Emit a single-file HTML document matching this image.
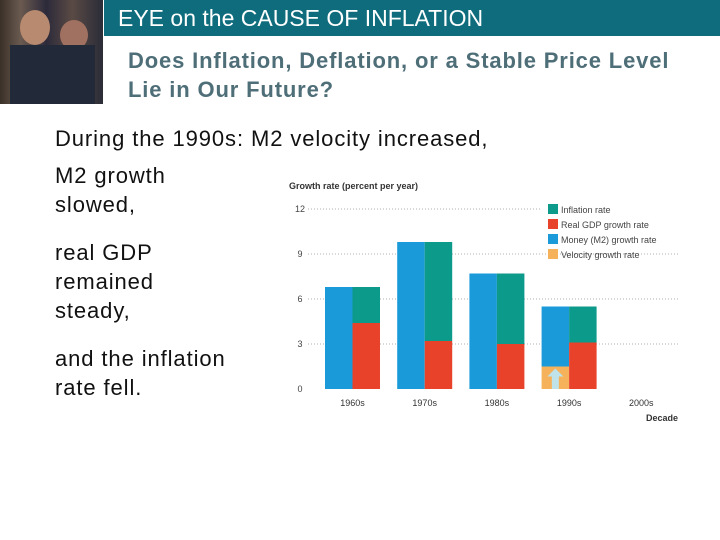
<!DOCTYPE html>
<html><head><meta charset="utf-8"><style>
body{margin:0;width:720px;height:540px;position:relative;background:#fff;font-family:"Liberation Sans",sans-serif;overflow:hidden}
.t{position:absolute;font-size:22px;color:#111;white-space:nowrap;line-height:29px;letter-spacing:0.9px}
</style></head><body>
<div style="position:absolute;left:0;top:0;width:103px;height:104px;background:linear-gradient(90deg,#3a3028 0%,#6a5a50 20%,#2c2a3a 45%,#5a4a44 70%,#2a2c38 100%)">
<div style="position:absolute;left:20px;top:10px;width:30px;height:35px;border-radius:50%;background:#b88a70"></div>
<div style="position:absolute;left:60px;top:20px;width:28px;height:30px;border-radius:50%;background:#a07060"></div>
<div style="position:absolute;left:10px;top:45px;width:85px;height:59px;background:#222a3a"></div>
</div>
<div style="position:absolute;left:104px;top:0;width:616px;height:36px;background:#0e6c7c"></div>
<div style="position:absolute;left:118px;top:5px;font-size:23px;color:#fff;white-space:nowrap">EYE on the CAUSE OF INFLATION</div>
<div style="position:absolute;left:128px;top:46px;font-size:22px;font-weight:bold;color:#4e6e78;line-height:29px;white-space:nowrap;letter-spacing:0.85px">Does Inflation, Deflation, or a Stable Price Level<br>Lie in Our Future?</div>
<div class="t" style="left:55px;top:124px">During the 1990s: M2 velocity increased,</div>
<div class="t" style="left:55px;top:161px">M2 growth<br>slowed,</div>
<div class="t" style="left:55px;top:238px">real GDP<br>remained<br>steady,</div>
<div class="t" style="left:55px;top:344px">and the inflation<br>rate fell.</div>
<svg id="chart" width="720" height="540" style="position:absolute;left:0;top:0" font-family="Liberation Sans,sans-serif"></svg>
<script>
const decades=["1960s","1970s","1980s","1990s","2000s"];
const m2Growth=[6.8,9.8,7.7,4.0,null];
const velocityGrowth=[0,0,0,1.5,null];
const gdpGrowth=[4.4,3.2,3.0,3.1,null];
const inflation=[2.4,6.6,4.7,2.4,null];
const yTicks=[0,3,6,9,12];
const legendLabels=["Inflation rate","Real GDP growth rate","Money (M2) growth rate","Velocity growth rate"];
const legendColors=["#0c9a8a","#e8432a","#1a9ad8","#f6b25a"];
const NS="http://www.w3.org/2000/svg";
const svg=document.getElementById('chart');
const y=v=>389-v*15;
const x0=i=>325+i*72.2;
const bw=27.5;
function mk(t,a,txt){const e=document.createElementNS(NS,t);for(const k in a)e.setAttribute(k,a[k]);if(txt!=null)e.textContent=txt;svg.appendChild(e);return e;}
let e=mk('text',{x:289,y:189,'font-size':9,'font-weight':'bold',fill:'#333'},'Growth rate (percent per year)');

yTicks.forEach(v=>{
 if(v>0){let g=mk('line',{x1:308,x2:v==12?540:678,y1:y(v),y2:y(v),stroke:'#999','stroke-width':0.8,'stroke-dasharray':'1,2'});
 }
 let t=mk('text',{x:300,y:y(v)+3,'font-size':9,fill:'#444','text-anchor':'middle'},v);
 
});
decades.forEach((d,i)=>{
 const x=x0(i);
 if(m2Growth[i]!=null){
  const vel=velocityGrowth[i];
  let r=mk('rect',{x:x,y:y(m2Growth[i]+vel),width:bw,height:m2Growth[i]*15,fill:'#1a9ad8'});
  
  if(vel>0){
   let v=mk('rect',{x:x,y:y(vel),width:bw,height:vel*15,fill:'#f6b25a'});
   
   const cx=x+bw/2,top=y(vel)+2,bot=y(0);
   let a=mk('polygon',{points:`${cx},${top} ${cx+8},${top+8} ${cx+3.5},${top+8} ${cx+3.5},${bot} ${cx-3.5},${bot} ${cx-3.5},${top+8} ${cx-8},${top+8}`,fill:'#bfe3e8'});
   
  }
  let g=mk('rect',{x:x+bw,y:y(gdpGrowth[i]),width:bw,height:gdpGrowth[i]*15,fill:'#e8432a'});
  
  let f=mk('rect',{x:x+bw,y:y(gdpGrowth[i]+inflation[i]),width:bw,height:inflation[i]*15,fill:'#0c9a8a'});
  
 }
 let t=mk('text',{x:x+bw,y:406,'font-size':9,fill:'#333','text-anchor':'middle'},d);
 
});
let dx=mk('text',{x:678,y:421,'font-size':9,'font-weight':'bold',fill:'#333','text-anchor':'end'},'Decade');

legendLabels.forEach((l,i)=>{
 let s=mk('rect',{x:548,y:204+i*15,width:10,height:10,fill:legendColors[i]});
 
 let t=mk('text',{x:561,y:213+i*15,'font-size':9,fill:'#444'},l);
 
});
</script>
</body></html>
